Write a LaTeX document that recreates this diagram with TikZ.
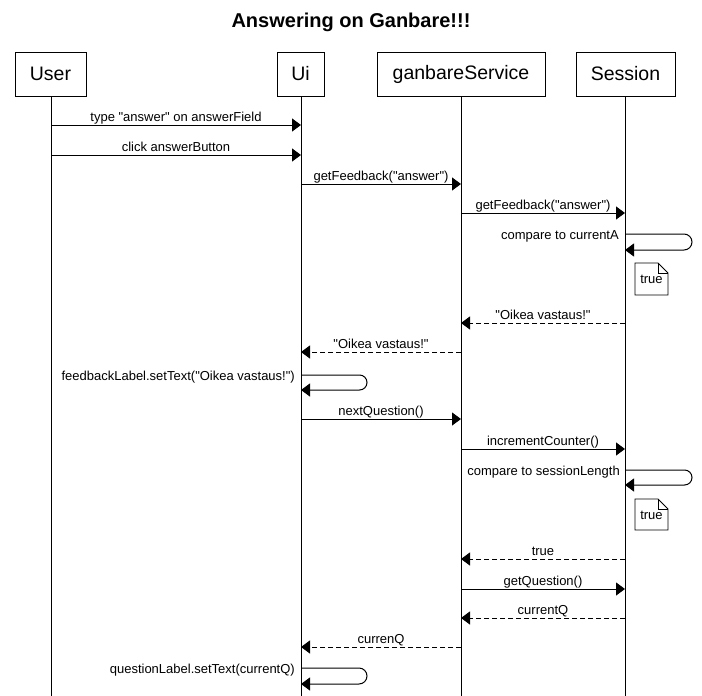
\documentclass[tikz,border=0pt]{standalone}
\usepackage{fontspec}
\setmainfont{Liberation Sans}[Ligatures=TeXOff]
\usetikzlibrary{arrows.meta}
\tikzset{
  part/.style={draw, line width=1pt, minimum height=44pt, inner sep=0pt, font=\fontsize{19.5}{22}\selectfont},
  life/.style={line width=1pt},
  msg/.style={line width=1pt, -{Triangle[length=9pt,width=13pt]}},
  ret/.style={msg, dash pattern=on 5pt off 3pt},
  lbl/.style={font=\fontsize{13}{15}\selectfont, inner sep=0pt},
  mlbl/.style={lbl, anchor=base, yshift=4pt},
  notebox/.style={font=\fontsize{13}{15}\selectfont, inner sep=0pt},
  noteline/.style={line width=0.8pt},
}
\begin{document}
\begin{tikzpicture}[x=1pt,y=-1pt]
\useasboundingbox (0,0) rectangle (702,696);
\node[font=\bfseries\fontsize{20}{24}\selectfont] (title) at (351,22) {Answering on Ganbare!!!};
\node[part, minimum width=71pt] (user) at (50.5,74) {User};
\node[part, minimum width=47pt] (ui) at (300.5,74) {Ui};
\node[part, minimum width=168pt] (gs) at (461,74) {ganbareService};
\node[part, minimum width=99pt] (ses) at (625.5,74) {Session};
\coordinate (userE) at (51,696);
\coordinate (uiE) at (301,696);
\coordinate (gsE) at (461,696);
\coordinate (sesE) at (625,696);
\draw[life] (user.south -| userE) -- (userE);
\draw[life] (ui.south -| uiE) -- (uiE);
\draw[life] (gs.south -| gsE) -- (gsE);
\draw[life] (ses.south -| sesE) -- (sesE);

\coordinate (m1a) at (51,125); \coordinate (m1b) at (301,125);
\draw[msg] (m1a) -- node[mlbl] (l1) {type "answer" on answerField} (m1b);
\coordinate (m2a) at (51,155); \coordinate (m2b) at (301,155);
\draw[msg] (m2a) -- node[mlbl] (l2) {click answerButton} (m2b);
\coordinate (m3a) at (301,184); \coordinate (m3b) at (461,184);
\draw[msg] (m3a) -- node[mlbl] (l3) {getFeedback("answer")} (m3b);
\coordinate (m4a) at (461,213); \coordinate (m4b) at (625,213);
\draw[msg] (m4a) -- node[mlbl] (l4) {getFeedback("answer")} (m4b);
% self 1
\coordinate (s1a) at (625,234); \coordinate (s1b) at (625,250);
\draw[msg, rounded corners=8pt] (s1a) -- (692,234) -- (692,250) -- (s1b);
\node[lbl, anchor=base east] (ls1) at (619,239) {compare to currentA};
\node[notebox] (n1) at (651.5,279) {true};
\draw[noteline] (635,263) -- (658,263) -- (668,273) -- (668,295) -- (635,295) -- cycle;
\draw[noteline] (658,263) -- (658,273) -- (668,273);
% returns
\coordinate (m5a) at (625,323); \coordinate (m5b) at (461,323);
\draw[ret] (m5a) -- node[mlbl] (l5) {"Oikea vastaus!"} (m5b);
\coordinate (m6a) at (461,352); \coordinate (m6b) at (301,352);
\draw[ret] (m6a) -- node[mlbl] (l6) {"Oikea vastaus!"} (m6b);
% self 2
\coordinate (s2a) at (301,375); \coordinate (s2b) at (301,390);
\draw[msg, rounded corners=7.5pt] (s2a) -- (367,375) -- (367,390) -- (s2b);
\node[lbl, anchor=base east] (ls2) at (295,380) {feedbackLabel.setText("Oikea vastaus!")};
\coordinate (m7a) at (301,419); \coordinate (m7b) at (461,419);
\draw[msg] (m7a) -- node[mlbl] (l7) {nextQuestion()} (m7b);
\coordinate (m8a) at (461,449); \coordinate (m8b) at (625,449);
\draw[msg] (m8a) -- node[mlbl] (l8) {incrementCounter()} (m8b);
% self 3
\coordinate (s3a) at (625,470); \coordinate (s3b) at (625,485);
\draw[msg, rounded corners=7.5pt] (s3a) -- (692,470) -- (692,485) -- (s3b);
\node[lbl, anchor=base east] (ls3) at (620,475) {compare to sessionLength};
\node[notebox] (n2) at (651.5,515) {true};
\draw[noteline] (635,499) -- (658,499) -- (668,509) -- (668,530) -- (635,530) -- cycle;
\draw[noteline] (658,499) -- (658,509) -- (668,509);
\coordinate (m9a) at (625,559); \coordinate (m9b) at (461,559);
\draw[ret] (m9a) -- node[mlbl] (l9) {true} (m9b);
\coordinate (m10a) at (461,589); \coordinate (m10b) at (625,589);
\draw[msg] (m10a) -- node[mlbl] (l10) {getQuestion()} (m10b);
\coordinate (m11a) at (625,618); \coordinate (m11b) at (461,618);
\draw[ret] (m11a) -- node[mlbl] (l11) {currentQ} (m11b);
\coordinate (m12a) at (461,647); \coordinate (m12b) at (301,647);
\draw[ret] (m12a) -- node[mlbl] (l12) {currenQ} (m12b);
% self 4
\coordinate (s4a) at (301,668); \coordinate (s4b) at (301,684);
\draw[msg, rounded corners=8pt] (s4a) -- (367,668) -- (367,684) -- (s4b);
\node[lbl, anchor=base east] (ls4) at (295,673) {questionLabel.setText(currentQ)};
\end{tikzpicture}
\end{document}
